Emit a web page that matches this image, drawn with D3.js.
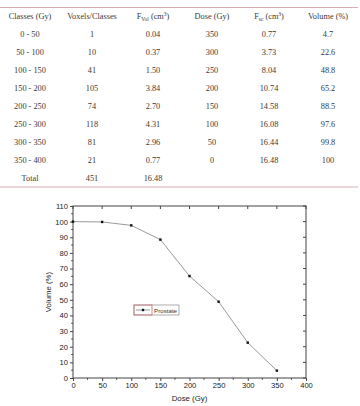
<!DOCTYPE html>
<html><head><meta charset="utf-8">
<script src="https://cdn.jsdelivr.net/npm/d3@7"></script>
<style>body{margin:0;background:#fff}svg{display:block}</style>
</head><body>
<script>
// ---- table data ----
const classes = ["0 - 50","50 - 100","100 - 150","150 - 200","200 - 250","250 - 300","300 - 350","350 - 400","Total"];
const voxels = ["1","10","41","105","74","118","81","21","451"];
const fvol = ["0.04","0.37","1.50","3.84","2.70","4.31","2.96","0.77","16.48"];
const doseCol = ["350","300","250","200","150","100","50","0",""];
const fsc = ["0.77","3.73","8.04","10.74","14.58","16.08","16.44","16.48",""];
const volCol = ["4.7","22.6","48.8","65.2","88.5","97.6","99.8","100",""];
// ---- chart data ----
const doses = [0,50,100,150,200,250,300,350];
const volumes = [100,99.8,97.6,88.5,65.2,48.8,22.6,4.7];
const xTicks = [0,50,100,150,200,250,300,350,400];
const yTicks = [0,10,20,30,40,50,60,70,80,90,100,110];
const seriesName = "Prostate";

const W=360,H=406;
const svg=d3.select("body").append("svg").attr("width",W).attr("height",H);

// ---- table ----
const tf="'Liberation Serif','DejaVu Serif',serif";
const colX=[30,92,153,212,269,328];
const lineCol="#dcaab1";
svg.append("line").attr("x1",0).attr("x2",358).attr("y1",7.5).attr("y2",7.5).attr("stroke",lineCol).attr("stroke-width",1);
svg.append("line").attr("x1",0).attr("x2",358).attr("y1",187).attr("y2",187).attr("stroke",lineCol).attr("stroke-width",1);
const tg=svg.append("g").attr("font-family",tf).attr("font-size",8.3).attr("fill","#3a3a3a").attr("text-anchor","middle");
// header
const hy=19;
tg.append("text").attr("x",colX[0]).attr("y",hy).text("Classes (Gy)");
tg.append("text").attr("x",colX[1]).attr("y",hy).text("Voxels/Classes");
function subHead(x,base,sub){
  const t=tg.append("text").attr("x",x).attr("y",hy);
  t.append("tspan").text(base);
  t.append("tspan").attr("font-size",5.5).attr("dy",1.5).text(sub);
  t.append("tspan").attr("dy",-1.5).text(" (cm");
  t.append("tspan").attr("font-size",5.5).attr("dy",-3).text("3");
  t.append("tspan").attr("dy",3).text(")");
}
subHead(colX[2],"F","Vol");
tg.append("text").attr("x",colX[3]).attr("y",hy).text("Dose (Gy)");
subHead(colX[4],"F","sc");
tg.append("text").attr("x",colX[5]).attr("y",hy).text("Volume (%)");
const cols=[classes,voxels,fvol,doseCol,fsc,volCol];
const rowY=d3.scaleLinear().domain([0,8]).range([37,181]);
cols.forEach((c,ci)=>{
  c.forEach((v,ri)=>{ if(v!=="") tg.append("text").attr("x",colX[ci]).attr("y",rowY(ri)).text(v); });
});

// ---- chart ----
const cf="'Liberation Sans',Arial,sans-serif";
const L=73,R=306,T=206,B=378;
const x=d3.scaleLinear().domain([0,400]).range([L,R]);
const y=d3.scaleLinear().domain([0,110]).range([B,T]);
const g=svg.append("g").attr("font-family",cf).attr("font-size",7.8).attr("fill","#222");
const ax="#444";
// frame
g.append("rect").attr("x",L).attr("y",T).attr("width",R-L).attr("height",B-T).attr("fill","none").attr("stroke",ax).attr("stroke-width",1);
// bottom axis
const xAx=g.append("g").attr("transform",`translate(0,${B})`).call(d3.axisBottom(x).tickValues(xTicks).tickSize(3).tickPadding(2).tickFormat(d3.format("d")));
xAx.select(".domain").remove();
xAx.selectAll("line").attr("stroke",ax);
xAx.selectAll("text").attr("font-family",cf).attr("font-size",7.6).attr("fill","#222");
const xMinor=d3.range(25,400,50);
g.append("g").selectAll("line").data(xMinor).join("line").attr("x1",d=>x(d)).attr("x2",d=>x(d)).attr("y1",B).attr("y2",B+1.8).attr("stroke",ax);
// top ticks inward
g.append("g").selectAll("line").data(xTicks).join("line").attr("x1",d=>x(d)).attr("x2",d=>x(d)).attr("y1",T).attr("y2",T+3).attr("stroke",ax);
// left axis
const yAx=g.append("g").attr("transform",`translate(${L},0)`).call(d3.axisLeft(y).tickValues(yTicks).tickSize(3).tickPadding(2).tickFormat(d3.format("d")));
yAx.select(".domain").remove();
yAx.selectAll("line").attr("stroke",ax);
yAx.selectAll("text").attr("font-family",cf).attr("font-size",7.6).attr("fill","#222");
const yMinor=d3.range(5,110,10);
g.append("g").selectAll("line").data(yMinor).join("line").attr("x1",L).attr("x2",L-1.8).attr("y1",d=>y(d)).attr("y2",d=>y(d)).attr("stroke",ax);
// right ticks inward
g.append("g").selectAll("line").data(yTicks).join("line").attr("x1",R).attr("x2",R-3).attr("y1",d=>y(d)).attr("y2",d=>y(d)).attr("stroke",ax);
// titles
g.append("text").attr("x",(L+R)/2).attr("y",401).attr("text-anchor","middle").text("Dose (Gy)");
g.append("text").attr("transform",`translate(51,${(T+B)/2}) rotate(-90)`).attr("text-anchor","middle").text("Volume (%)");
// line + markers
const pts=doses.map((d,i)=>[d,volumes[i]]);
g.append("path").datum(pts).attr("fill","none").attr("stroke","#9a9a9a").attr("stroke-width",1)
 .attr("d",d3.line().x(d=>x(d[0])).y(d=>y(d[1])));
g.append("g").selectAll("rect").data(pts).join("rect").attr("x",d=>x(d[0])-1.2).attr("y",d=>y(d[1])-1.2).attr("width",2.4).attr("height",2.4).attr("fill","#111");
// legend
const lg=g.append("g");
lg.append("rect").attr("x",134).attr("y",305).attr("width",45).attr("height",10).attr("fill","#fff").attr("stroke","#999").attr("stroke-width",0.8);
lg.append("rect").attr("x",134).attr("y",305).attr("width",18).attr("height",10).attr("fill","none").attr("stroke","#c96b78").attr("stroke-width",0.8);
lg.append("line").attr("x1",136).attr("x2",150).attr("y1",310).attr("y2",310).attr("stroke","#9a9a9a");
lg.append("rect").attr("x",141.8).attr("y",308.8).attr("width",2.4).attr("height",2.4).attr("fill","#111");
lg.append("text").attr("x",154).attr("y",312.6).attr("font-size",6.2).attr("fill","#333").text(seriesName);
</script>
</body></html>
